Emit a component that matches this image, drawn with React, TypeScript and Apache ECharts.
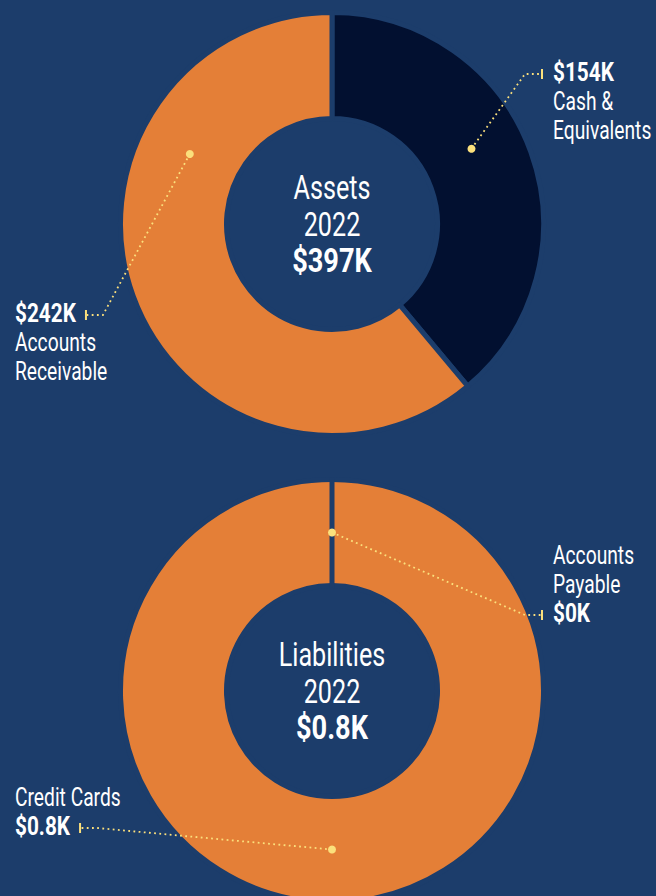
import React, { useEffect, useRef } from "react";
import * as echarts from "echarts";

// ---------- data (values in $K) ----------
const assetNames = ["Cash &\nEquivalents", "Accounts\nReceivable"];
const assetValues = [154.4, 242.4];
const liabilityNames = ["Credit Cards", "Accounts\nPayable"];
const liabilityValues = [0.8, 0];
const panelTitles = ["Assets", "Liabilities"];
const panelYear = "2022";

// ---------- style ----------
const FONT = "Roboto, 'Liberation Sans', sans-serif";
const BG = "#1c3d6b";
const ORANGE = "#e47f37";
const NAVY = "#021030";
const GOLD = "#fbe07c";
const LH = 29;
const LABEL_SIZE = 26;
const TITLE_SIZE = 34;
const TITLE_LH = 36.5;
const SQUEEZE = 0.74; // condensed look
const SQUEEZE_BOLD = 0.8;

const panels = [
  {
    names: assetNames,
    values: assetValues,
    title: panelTitles[0],
    center: [332, 224],
    valueFirst: true,
    colors: [NAVY, ORANGE],
    anchorFrac: [0.44, 0.71],
    labels: [
      { side: "right", top: 58 },
      { side: "left", top: 299 },
    ],
  },
  {
    names: liabilityNames,
    values: liabilityValues,
    title: panelTitles[1],
    center: [332, 691],
    valueFirst: false,
    colors: [ORANGE, ORANGE],
    anchorFrac: [0.5, 0],
    labels: [
      { side: "left", top: 783 },
      { side: "right", top: 541 },
    ],
  },
];

const fmtK = (v: number) => {
  const s = v >= 10 ? String(Math.round(v)) : String(Math.round(v * 10) / 10);
  return `$${s}K`;
};

function measure(text: string, font: string) {
  const c = document.createElement("canvas").getContext("2d")!;
  c.font = font;
  return c.measureText(text).width;
}

function textEl(text: string, x: number, y: number, size: number, bold: boolean, align: string) {
  return {
    type: "text",
    z: 100,
    x,
    y,
    scaleX: bold ? SQUEEZE_BOLD : SQUEEZE,
    silent: true,
    style: {
      text,
      fill: "#ffffff",
      fontSize: size,
      fontFamily: FONT,
      fontWeight: bold ? "bold" : "normal",
      align,
      verticalAlign: "middle",
      textAlign: align,
      textVerticalAlign: "middle",
    },
  };
}

export default function App() {
  const ref = useRef<HTMLDivElement>(null);

  useEffect(() => {
    if (!ref.current) return;
    const chart = echarts.init(ref.current, undefined, { renderer: "svg" });

    const RING_IN = 108;
    const RING_OUT = 209;
    const BORDER = 5;
    const MID = (RING_IN + RING_OUT) / 2;

    const series: any[] = [];
    const graphics: any[] = [];

    panels.forEach((pn) => {
      const total = pn.values.reduce((a, b) => a + b, 0);
      const [cx, cy] = pn.center;
      let cum = 0;
      pn.values.forEach((v, i) => {
        const start = (cum / total) * 360;
        const sweep = (v / total) * 360;
        cum += v;
        const a = ((start + pn.anchorFrac[i] * sweep) * Math.PI) / 180;
        const dot = [cx + MID * Math.sin(a), cy - MID * Math.cos(a)];
        const nameLines = pn.names[i].split("\n");
        const valText = fmtK(v);
        const lines = pn.valueFirst
          ? [{ t: valText, b: true }, ...nameLines.map((t) => ({ t, b: false }))]
          : [...nameLines.map((t) => ({ t, b: false })), { t: valText, b: true }];
        const valIdx = pn.valueFirst ? 0 : nameLines.length;
        const lp = pn.labels[i];
        const lineY = lp.top + valIdx * LH + LH / 2 + 1.5;
        let x: number, tickX: number, end: number[], elbow: number[];
        if (lp.side === "right") {
          x = 553;
          tickX = x - 12;
          end = [tickX, lineY];
          elbow = [tickX - 16, lineY];
        } else {
          x = 15;
          const w = measure(valText, `bold ${LABEL_SIZE}px ${FONT}`) * SQUEEZE_BOLD;
          tickX = x + w + 9;
          end = [tickX + 2, lineY];
          elbow = [tickX + 18, lineY];
        }
        lines.forEach((ln, k) => {
          graphics.push(textEl(ln.t, x, lp.top + k * LH + LH / 2, LABEL_SIZE, ln.b, "left"));
        });
        graphics.push({
          type: "polyline",
          z: 99,
          silent: true,
          shape: { points: [dot, elbow, end] },
          style: { stroke: GOLD, lineWidth: 1.8, lineDash: [1.8, 3.4], fill: null },
        });
        graphics.push({
          type: "circle",
          z: 100,
          shape: { cx: dot[0], cy: dot[1], r: 4 },
          style: { fill: GOLD },
          silent: true,
        });
        graphics.push({
          type: "rect",
          z: 100,
          shape: { x: tickX, y: lineY - 5, width: 2, height: 10 },
          style: { fill: GOLD },
          silent: true,
        });
      });

      [pn.title, panelYear, fmtK(total)].forEach((t, k) => {
        graphics.push(textEl(t, cx, cy + (k - 1) * TITLE_LH, TITLE_SIZE, k === 2, "center"));
      });

      series.push({
        type: "pie",
        center: [cx, cy],
        radius: [RING_IN - BORDER / 2, RING_OUT + BORDER / 2],
        startAngle: 90,
        clockwise: true,
        avoidLabelOverlap: false,
        emphasis: { disabled: true },
        silent: true,
        itemStyle: { borderColor: BG, borderWidth: BORDER },
        label: { show: false },
        labelLine: { show: false },
        data: pn.values.map((v, i) => ({
          name: pn.names[i],
          value: v,
          itemStyle: { color: pn.colors[i] },
        })),
      });
    });

    chart.setOption({
      animation: false,
      backgroundColor: BG,
      series,
      graphic: { elements: graphics },
    });

    return () => chart.dispose();
  }, []);

  return (
    <div
      ref={ref}
      style={{ position: "absolute", left: 0, top: 0, width: 656, height: 896, background: BG }}
    />
  );
}
